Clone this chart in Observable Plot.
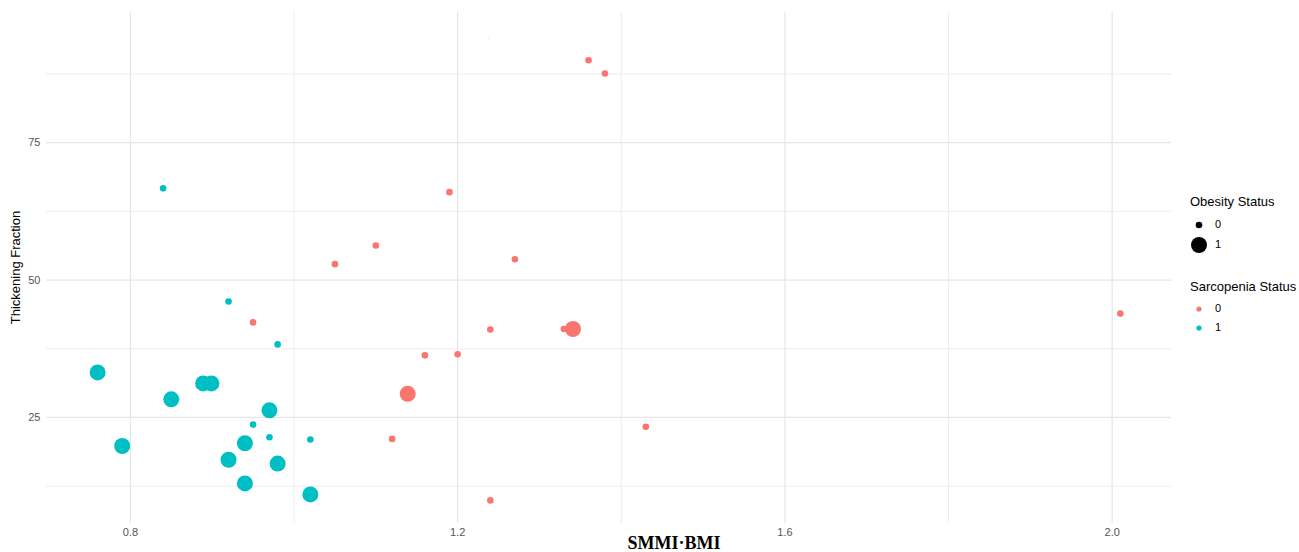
<!DOCTYPE html>
<html>
<head>
<meta charset="utf-8">
<script src="https://cdn.jsdelivr.net/npm/d3@7"></script>
<script src="https://cdn.jsdelivr.net/npm/@observablehq/plot@0.6"></script>
<style>
  html, body { margin: 0; padding: 0; background: #fff; }
  #chart { width: 1299px; height: 552px; position: relative; }
</style>
</head>
<body>
<div id="chart"></div>
<script>
// ---- data ----
const smmiBmi = [0.84, 0.92, 0.98, 0.76, 0.889, 0.899, 0.85, 0.97, 0.95, 0.97, 1.02, 0.79, 0.94, 0.92, 0.98, 0.94, 1.02,
                 0.95, 1.05, 1.10, 1.16, 1.139, 1.12, 1.19, 1.27, 1.36, 1.38, 1.20, 1.24, 1.33, 1.341, 1.43, 1.24, 2.01];
const thickening = [66.7, 46.1, 38.3, 33.2, 31.2, 31.2, 28.3, 26.3, 23.7, 21.4, 21.0, 19.8, 20.3, 17.3, 16.6, 13.0, 11.0,
                    42.3, 52.9, 56.3, 36.3, 29.3, 21.1, 66.0, 53.8, 90.0, 87.6, 36.5, 41.0, 41.1, 41.1, 23.3, 9.9, 43.9];
const obesity = [0, 0, 0, 1, 1, 1, 1, 1, 0, 0, 0, 1, 1, 1, 1, 1, 1,
                 0, 0, 0, 0, 1, 0, 0, 0, 0, 0, 0, 0, 0, 1, 0, 0, 0];
const sarcopenia = [1, 1, 1, 1, 1, 1, 1, 1, 1, 1, 1, 1, 1, 1, 1, 1, 1,
                    0, 0, 0, 0, 0, 0, 0, 0, 0, 0, 0, 0, 0, 0, 0, 0, 0];
// faint stray point near the top of the panel
const strayX = [1.2377];
const strayY = [94.1];

const xTicks = [0.8, 1.2, 1.6, 2.0];
const xTickLabels = ["0.8", "1.2", "1.6", "2.0"];
const xMinor = [1.0, 1.4, 1.8];
const yTicks = [25, 50, 75];
const yTickLabels = ["25", "50", "75"];
const yMinor = [12.5, 37.5, 62.5, 87.5];

const statusLevels = ["0", "1"];
const statusColors = ["#F8766D", "#00BFC4"];

const xTitle = "SMMI·BMI";
const yTitle = "Thickening Fraction";
const sizeLegendTitle = "Obesity Status";
const colorLegendTitle = "Sarcopenia Status";

const data = smmiBmi.map((x, i) => ({
  x, y: thickening[i], obese: obesity[i], sarc: String(sarcopenia[i])
}));
const stray = strayX.map((x, i) => ({x, y: strayY[i]}));

const W = 1299, H = 552;
const mL = 46, mR = 128, mT = 12, mB = 29;
const font = "Liberation Sans, Arial, Helvetica, sans-serif";

const plot = Plot.plot({
  width: W, height: H,
  marginLeft: mL, marginRight: mR, marginTop: mT, marginBottom: mB,
  style: {fontFamily: font, background: "#fff", overflow: "visible"},
  x: {domain: [0.6975, 2.0725], label: null},
  y: {domain: [5.7, 98.7], label: null},
  r: {type: "linear", domain: [0, 1], range: [3.3, 8]},
  color: {type: "ordinal", domain: statusLevels, range: statusColors},
  marks: [
    Plot.gridX(xMinor, {stroke: "#ebebeb", strokeOpacity: 1, strokeWidth: 0.9}),
    Plot.gridY(yMinor, {stroke: "#ebebeb", strokeOpacity: 1, strokeWidth: 0.9}),
    Plot.gridX(xTicks, {stroke: "#e6e6e6", strokeOpacity: 1, strokeWidth: 1.2}),
    Plot.gridY(yTicks, {stroke: "#e6e6e6", strokeOpacity: 1, strokeWidth: 1.2}),
    Plot.axisX({ticks: xTicks, tickFormat: (d, i) => xTickLabels[i], tickSize: 0, tickPadding: 5,
                fontSize: 11, color: "#555", label: null}),
    Plot.axisY({ticks: yTicks, tickFormat: (d, i) => yTickLabels[i], tickSize: 0, tickPadding: 6,
                fontSize: 11, color: "#555", label: null}),
    Plot.dot(stray, {x: "x", y: "y", r: 0.6, fill: "#d8d8d8"}),
    Plot.dot(data, {x: "x", y: "y", r: "obese", fill: "sarc", stroke: "none"})
  ]
});

document.getElementById("chart").appendChild(plot);

const svg = d3.select(plot);
// axis titles
svg.append("text")
  .attr("x", 674).attr("y", 545)
  .attr("text-anchor", "middle")
  .attr("dominant-baseline", "middle")
  .attr("font-family", "Liberation Serif, Times New Roman, serif")
  .attr("font-weight", "bold")
  .attr("font-size", 18)
  .attr("fill", "#000")
  .text(xTitle);
svg.append("text")
  .attr("transform", `translate(17,${(mT + (H - mB)) / 2}) rotate(-90)`)
  .attr("text-anchor", "middle")
  .attr("dominant-baseline", "middle")
  .attr("font-family", font)
  .attr("font-size", 13)
  .attr("fill", "#000")
  .text(yTitle);

// legends
const lg = svg.append("g").attr("font-family", font).attr("text-anchor", "start");
lg.append("text").attr("x", 1190).attr("y", 203).attr("dominant-baseline", "middle")
  .attr("text-anchor", "start")
  .attr("font-size", 13).attr("fill", "#000").text(sizeLegendTitle);
const sizeKeys = [{lab: "0", r: 3.3, y: 225}, {lab: "1", r: 8, y: 245}];
sizeKeys.forEach(k => {
  lg.append("circle").attr("cx", 1199).attr("cy", k.y).attr("r", k.r).attr("fill", "#000");
  lg.append("text").attr("x", 1215).attr("y", k.y).attr("dominant-baseline", "middle")
    .attr("text-anchor", "start")
    .attr("font-size", 11).attr("fill", "#000").text(k.lab);
});
lg.append("text").attr("x", 1190).attr("y", 288).attr("dominant-baseline", "middle")
  .attr("text-anchor", "start")
  .attr("font-size", 13).attr("fill", "#000").text(colorLegendTitle);
statusLevels.forEach((lab, i) => {
  const y = 309 + i * 19;
  lg.append("circle").attr("cx", 1199).attr("cy", y).attr("r", 2.6).attr("fill", statusColors[i]);
  lg.append("text").attr("x", 1215).attr("y", y).attr("dominant-baseline", "middle")
    .attr("text-anchor", "start")
    .attr("font-size", 11).attr("fill", "#000").text(lab);
});
</script>
</body>
</html>
